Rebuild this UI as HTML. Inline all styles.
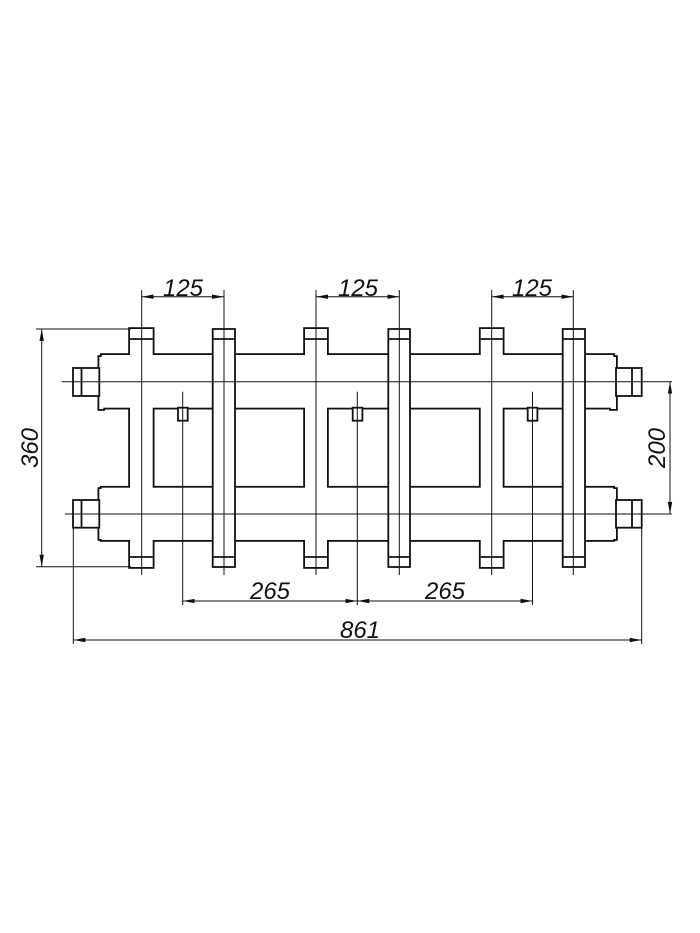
<!DOCTYPE html>
<html><head><meta charset="utf-8"><style>
html,body{margin:0;padding:0;background:#fff;}
svg{display:block}
text{font-family:"Liberation Sans",sans-serif;font-style:italic;font-size:24px;fill:#111}
</style></head><body>
<svg width="700" height="933" viewBox="0 0 700 933" xmlns="http://www.w3.org/2000/svg">
<defs>
<marker id="a" viewBox="0 0 12 6" refX="12" refY="3" markerWidth="12" markerHeight="6" orient="auto-start-reverse" markerUnits="userSpaceOnUse"><path d="M0,0.8 L12,3 L0,5.2z" fill="#111"/></marker>
</defs>
<rect width="700" height="933" fill="#fff"/>
<g stroke="#111" stroke-width="3.6" fill="#fff">
<rect x="130" y="329" width="22.7" height="238"/>
<rect x="305" y="329" width="22" height="238"/>
<rect x="480.7" y="329" width="22" height="238"/>
<rect x="101.7" y="355" width="511.6" height="52.7"/>
<rect x="101.7" y="487.7" width="511.6" height="52.3"/>
<rect x="99.3" y="357" width="4" height="52"/>
<rect x="99.3" y="489" width="4" height="50"/>
<rect x="611" y="357" width="5" height="52"/>
<rect x="611" y="489" width="5" height="50"/>
</g>
<g fill="#fff">
<rect x="130" y="329" width="22.7" height="238"/>
<rect x="305" y="329" width="22" height="238"/>
<rect x="480.7" y="329" width="22" height="238"/>
<rect x="101.7" y="355" width="511.6" height="52.7"/>
<rect x="101.7" y="487.7" width="511.6" height="52.3"/>
<rect x="99.3" y="357" width="4" height="52"/>
<rect x="99.3" y="489" width="4" height="50"/>
<rect x="611" y="357" width="5" height="52"/>
<rect x="611" y="489" width="5" height="50"/>
</g>
<g stroke="#111" stroke-width="1.8" fill="none">
<line x1="130" y1="339" x2="152.7" y2="339"/><line x1="130" y1="557" x2="152.7" y2="557"/>
<line x1="305" y1="339" x2="327" y2="339"/><line x1="305" y1="557" x2="327" y2="557"/>
<line x1="480.7" y1="339" x2="502.7" y2="339"/><line x1="480.7" y1="557" x2="502.7" y2="557"/>
</g>
<g stroke="#111" stroke-width="1.8" fill="#fff">
<rect x="212.7" y="329" width="22.3" height="238"/>
<rect x="388.3" y="329" width="21.7" height="238"/>
<rect x="562.7" y="329" width="22.3" height="238"/>
<line x1="212.7" y1="339" x2="235" y2="339"/><line x1="212.7" y1="557" x2="235" y2="557"/>
<line x1="388.3" y1="339" x2="410" y2="339"/><line x1="388.3" y1="557" x2="410" y2="557"/>
<line x1="562.7" y1="339" x2="585" y2="339"/><line x1="562.7" y1="557" x2="585" y2="557"/>
<rect x="73" y="368" width="26.3" height="28"/><line x1="81.5" y1="368" x2="81.5" y2="396"/>
<rect x="73" y="500" width="26.3" height="27.7"/><line x1="81.5" y1="500" x2="81.5" y2="527.7"/>
<rect x="616" y="368" width="25.7" height="28"/><line x1="632" y1="368" x2="632" y2="396"/>
<rect x="616" y="500" width="25.7" height="27.7"/><line x1="632" y1="500" x2="632" y2="527.7"/>
<rect x="178" y="407.7" width="9.7" height="13"/>
<rect x="352.7" y="407.7" width="9.7" height="13"/>
<rect x="527.7" y="407.7" width="9.7" height="13"/>
</g>
<g stroke="#111" stroke-width="1" fill="none">
<line x1="61.7" y1="381.7" x2="672" y2="381.7"/>
<line x1="65" y1="514" x2="672" y2="514"/>
<line x1="141.7" y1="290" x2="141.7" y2="575"/>
<line x1="224" y1="290" x2="224" y2="575"/>
<line x1="316" y1="290" x2="316" y2="575"/>
<line x1="399.3" y1="290" x2="399.3" y2="575"/>
<line x1="491.7" y1="290" x2="491.7" y2="575"/>
<line x1="573.3" y1="290" x2="573.3" y2="575"/>
<line x1="182.7" y1="391.7" x2="182.7" y2="605"/>
<line x1="357.3" y1="391.7" x2="357.3" y2="605"/>
<line x1="532.5" y1="391.7" x2="532.5" y2="605"/>
<line x1="36" y1="329" x2="131" y2="329"/>
<line x1="36" y1="566.7" x2="131" y2="566.7"/>
<line x1="73.3" y1="527.7" x2="73.3" y2="644"/>
<line x1="641.7" y1="527.7" x2="641.7" y2="644"/>
<line x1="41.7" y1="329" x2="41.7" y2="566.7" marker-start="url(#a)" marker-end="url(#a)"/>
<line x1="670" y1="381.7" x2="670" y2="514" marker-start="url(#a)" marker-end="url(#a)"/>
<line x1="141.7" y1="296.7" x2="224" y2="296.7" marker-start="url(#a)" marker-end="url(#a)"/>
<line x1="316" y1="296.7" x2="399.3" y2="296.7" marker-start="url(#a)" marker-end="url(#a)"/>
<line x1="491.7" y1="296.7" x2="573.3" y2="296.7" marker-start="url(#a)" marker-end="url(#a)"/>
<line x1="182.7" y1="601" x2="357.3" y2="601" marker-start="url(#a)" marker-end="url(#a)"/>
<line x1="357.3" y1="601" x2="532.5" y2="601" marker-start="url(#a)" marker-end="url(#a)"/>
<line x1="73.3" y1="640" x2="641.7" y2="640" marker-start="url(#a)" marker-end="url(#a)"/>
</g>
<text x="183" y="296" text-anchor="middle">125</text>
<text x="358" y="296" text-anchor="middle">125</text>
<text x="532" y="296" text-anchor="middle">125</text>
<text x="270" y="599" text-anchor="middle">265</text>
<text x="445" y="599" text-anchor="middle">265</text>
<text x="360" y="638" text-anchor="middle">861</text>
<text transform="translate(38,448) rotate(-90)" text-anchor="middle">360</text>
<text transform="translate(665,448) rotate(-90)" text-anchor="middle">200</text>
</svg>
</body></html>
